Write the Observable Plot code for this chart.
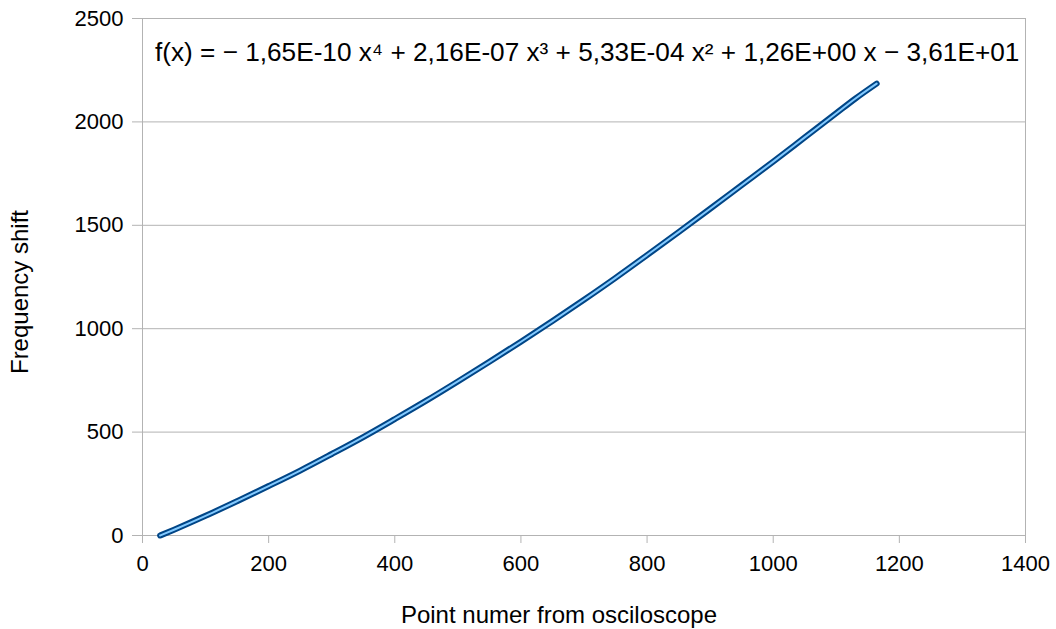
<!DOCTYPE html>
<html>
<head>
<meta charset="utf-8">
<script src="https://cdn.jsdelivr.net/npm/d3@7"></script>
<script src="https://cdn.jsdelivr.net/npm/@observablehq/plot@0.6"></script>
<style>
  html, body { margin: 0; padding: 0; background: #fff; }
  #chart svg { display: block; }
</style>
</head>
<body>
<div id="chart"></div>
<script>
// Data
const pointNumber = [28, 50, 100, 150, 200, 250, 300, 350, 400, 450, 500, 550, 600, 650, 700, 750, 800, 850, 900, 950, 1000, 1050, 1100, 1130, 1164];
const frequencyShift = [0, 28, 95, 166, 239, 314, 394, 476, 563, 652, 745, 840, 937, 1037, 1140, 1246, 1356, 1467, 1580, 1694, 1808, 1925, 2042, 2112, 2185];
const xTicks = [0, 200, 400, 600, 800, 1000, 1200, 1400];
const yTicks = [0, 500, 1000, 1500, 2000, 2500];
const equationText = "f(x) = − 1,65E-10 x⁴ + 2,16E-07 x³ + 5,33E-04 x² + 1,26E+00 x − 3,61E+01";
const xTitle = "Point numer from osciloscope";
const yTitle = "Frequency shift";

const data = pointNumber.map((x, i) => ({x, y: frequencyShift[i]}));

const grid = "#b3b3b3";
const font = "'Liberation Sans', Arial, sans-serif";

const chart = Plot.plot({
  width: 1056,
  height: 629,
  marginLeft: 142,
  marginRight: 31,
  marginTop: 18,
  marginBottom: 94,
  style: {fontFamily: font, fontSize: "22px", color: "#000", background: "#fff"},
  x: {domain: [0, 1400], ticks: xTicks},
  y: {domain: [0, 2500], ticks: yTicks},
  marks: [
    Plot.ruleY(yTicks, {stroke: grid, strokeWidth: 1}),
    Plot.ruleX([0, 1400], {stroke: grid, strokeWidth: 1}),
    Plot.axisX({ticks: xTicks, tickFormat: d => String(d), tickSize: 8, tickPadding: 12, stroke: grid, strokeOpacity: 1, label: null, fontSize: 22}),
    Plot.axisY({ticks: yTicks, tickFormat: d => String(d), tickSize: 10, tickPadding: 9, stroke: grid, strokeOpacity: 1, label: null, fontSize: 22}),
    Plot.line(data, {x: "x", y: "y", stroke: "#004586", strokeWidth: 6, curve: "monotone-x"}),
    Plot.line(data, {x: "x", y: "y", stroke: "#83caff", strokeWidth: 2, curve: "monotone-x"}),
    Plot.text([equationText], {x: 705, y: 2335, text: d => d, fontSize: 26.2, fill: "#000", textAnchor: "middle"})
  ]
});

const svg = d3.select(chart);
svg.append("text")
  .attr("x", 559).attr("y", 617)
  .attr("text-anchor", "middle").attr("dominant-baseline", "middle")
  .attr("font-family", font).attr("font-size", 24).attr("fill", "#000")
  .text(xTitle);
svg.append("text")
  .attr("transform", "translate(22,292) rotate(-90)")
  .attr("text-anchor", "middle").attr("dominant-baseline", "middle")
  .attr("font-family", font).attr("font-size", 24).attr("fill", "#000")
  .text(yTitle);

document.getElementById("chart").appendChild(chart);
</script>
</body>
</html>
